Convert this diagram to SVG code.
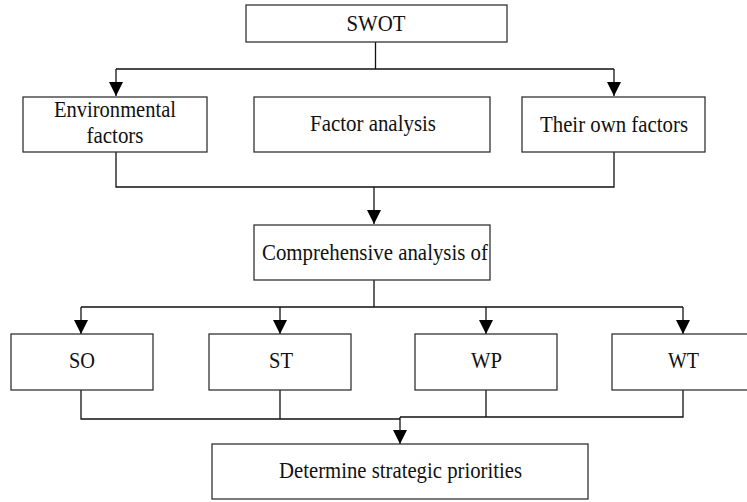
<svg xmlns="http://www.w3.org/2000/svg" width="747" height="502" viewBox="0 0 747 502">
<defs>
<marker id="arr" viewBox="0 0 14 14" refX="14" refY="7" markerWidth="14" markerHeight="14" markerUnits="userSpaceOnUse" orient="auto">
<path d="M0,0 L14,7 L0,14 Z" fill="#000"/>
</marker>
<style>
.box{fill:#fff;stroke:#333;stroke-width:1.3}
.t{font-family:"Liberation Serif","Times New Roman",serif;font-size:23px;fill:#111;text-anchor:middle}
.c{fill:none;stroke:#111;stroke-width:1.3}
</style>
</defs>
<rect width="747" height="502" fill="#fff"/>
<g id="connectors">
<path class="c" d="M375.5,42 V69 M116,69 H614"/>
<path class="c" d="M116,69 V96" marker-end="url(#arr)"/>
<path class="c" d="M614,69 V96" marker-end="url(#arr)"/>
<path class="c" d="M116,152 V187 H614 V152"/>
<path class="c" d="M374,187 V224" marker-end="url(#arr)"/>
<path class="c" d="M374,280 V307 M81,307 H683"/>
<path class="c" d="M81,307 V334" marker-end="url(#arr)"/>
<path class="c" d="M280,307 V334" marker-end="url(#arr)"/>
<path class="c" d="M486,307 V334" marker-end="url(#arr)"/>
<path class="c" d="M683,307 V334" marker-end="url(#arr)"/>
<path class="c" d="M81,390 V419 H400 M280,390 V419"/>
<path class="c" d="M486,390 V417 M683,390 V417 H400"/>
<path class="c" d="M400,417 V444" marker-end="url(#arr)"/>
</g>
<g id="swot"><rect class="box" x="246" y="5" width="261" height="37"/><text class="t" x="376" y="31" textLength="59" lengthAdjust="spacingAndGlyphs">SWOT</text></g>
<g id="env"><rect class="box" x="23" y="97" width="184" height="55"/><text class="t" x="115" y="117" textLength="122" lengthAdjust="spacingAndGlyphs">Environmental</text><text class="t" x="115" y="143" textLength="57" lengthAdjust="spacingAndGlyphs">factors</text></g>
<g id="factor"><rect class="box" x="254" y="97" width="236" height="55"/><text class="t" x="373" y="131" textLength="126" lengthAdjust="spacingAndGlyphs">Factor analysis</text></g>
<g id="own"><rect class="box" x="522" y="97" width="183" height="55"/><text class="t" x="614" y="132" textLength="148" lengthAdjust="spacingAndGlyphs">Their own factors</text></g>
<g id="comp"><rect class="box" x="254" y="225" width="236" height="55"/><text class="t" x="375" y="260" textLength="226" lengthAdjust="spacingAndGlyphs">Comprehensive analysis of</text></g>
<g id="so"><rect class="box" x="11" y="334" width="142" height="56"/><text class="t" x="82" y="368" textLength="26" lengthAdjust="spacingAndGlyphs">SO</text></g>
<g id="st"><rect class="box" x="209" y="334" width="142" height="56"/><text class="t" x="281" y="368" textLength="24" lengthAdjust="spacingAndGlyphs">ST</text></g>
<g id="wp"><rect class="box" x="415" y="334" width="142" height="56"/><text class="t" x="486.5" y="368" textLength="31" lengthAdjust="spacingAndGlyphs">WP</text></g>
<g id="wt"><rect class="box" x="612" y="334" width="150" height="56"/><text class="t" x="683.5" y="368" textLength="31" lengthAdjust="spacingAndGlyphs">WT</text></g>
<g id="det"><rect class="box" x="212" y="444" width="376" height="55"/><text class="t" x="400.5" y="478" textLength="243" lengthAdjust="spacingAndGlyphs">Determine strategic priorities</text></g>
</svg>
